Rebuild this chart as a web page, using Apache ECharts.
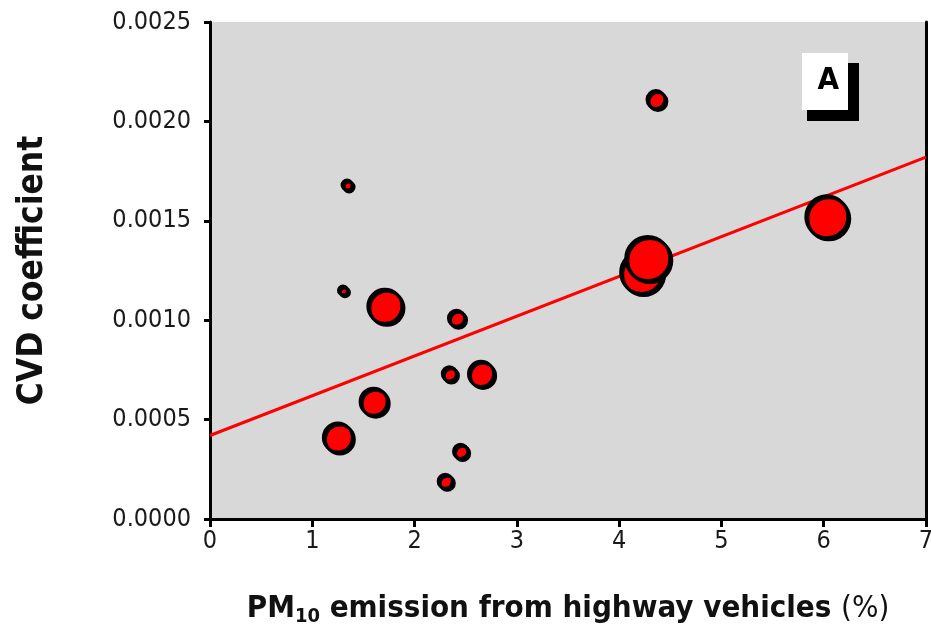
<!DOCTYPE html>
<html>
<head>
<meta charset="utf-8">
<script src="https://cdn.jsdelivr.net/npm/echarts@6/dist/echarts.min.js"></script>
<style>
  html, body { margin: 0; padding: 0; background: #ffffff; }
  #chart { width: 931px; height: 638px; }
</style>
</head>
<body>
<div id="chart"></div>
<script>
// PM10 share from highway vehicles (%) per city
const pmShare = [1.34, 1.30, 1.71, 2.41, 2.34, 2.65, 1.60, 1.25, 2.45, 2.30, 4.36, 4.22, 4.28, 6.03];
// CVD coefficient per city
const cvdCoef = [0.00168, 0.00115, 0.00107, 0.00101, 0.00073, 0.00073, 0.00059, 0.00041, 0.00034, 0.00019, 0.00211, 0.00124, 0.00131, 0.00152];
// Relative weight of each city estimate (bubble area)
const cityWeight = [1.0, 0.8, 11.6, 2.6, 2.0, 6.3, 7.3, 8.4, 2.0, 2.0, 3.2, 17.6, 19.4, 17.6];
// Fitted regression line end points
const fitX = [0, 7];
const fitY = [0.00042, 0.00182];
// Axis ticks
const xTicks = [0, 1, 2, 3, 4, 5, 6, 7];
const yTicks = [0.0000, 0.0005, 0.0010, 0.0015, 0.0020, 0.0025];

const narrow = "'Liberation Sans Narrow', 'DejaVu Sans Condensed', sans-serif";

const bubbles = pmShare.map((x, i) => [x, cvdCoef[i], cityWeight[i]]);
const fitLine = fitX.map((x, i) => [x, fitY[i]]);

const chart = echarts.init(document.getElementById('chart'), null, { renderer: 'canvas' });

const axisLineStyle = { color: '#000', width: 3 };

chart.setOption({
  animation: false,
  backgroundColor: '#ffffff',
  grid: {
    left: 210, right: 5, top: 22, bottom: 119,
    containLabel: false,
    outerBoundsMode: 'none',
    show: true, backgroundColor: '#d8d8d8', borderWidth: 0
  },
  xAxis: {
    type: 'value',
    min: xTicks[0], max: xTicks[xTicks.length - 1], interval: 1,
    splitLine: { show: false },
    axisLine: { show: true, onZero: false, lineStyle: axisLineStyle },
    axisTick: { show: true, inside: false, length: 8, lineStyle: { color: '#000', width: 3 } },
    axisLabel: { color: '#1a1a1a', fontFamily: narrow, fontSize: 25, margin: 10 },
    name: '{b|PM}{s|10}{b| emission from highway vehicles }{r|(%)}',
    nameLocation: 'middle',
    nameGap: 72,
    nameTextStyle: {
      rich: {
        b: { fontFamily: narrow, fontWeight: 'bold', fontSize: 31, color: '#111' },
        s: { fontFamily: narrow, fontWeight: 'bold', fontSize: 20, color: '#111', verticalAlign: 'bottom', padding: [16, 0, 0, 0] },
        r: { fontFamily: narrow, fontWeight: 'normal', fontSize: 31, color: '#111' }
      }
    }
  },
  yAxis: [{
    type: 'value',
    min: yTicks[0], max: yTicks[yTicks.length - 1], interval: 0.0005,
    splitLine: { show: false },
    axisLine: { show: true, onZero: false, lineStyle: axisLineStyle },
    axisTick: { show: true, inside: false, length: 6, lineStyle: { color: '#000', width: 3 } },
    axisLabel: { color: '#1a1a1a', fontFamily: narrow, fontSize: 25, margin: 19, formatter: v => v.toFixed(4) },
    name: 'CVD coefficient',
    nameLocation: 'middle',
    nameGap: 160,
    nameRotate: 90,
    nameTextStyle: { fontFamily: narrow, fontWeight: 'bold', fontSize: 35, color: '#111' }
  }, {
    type: 'value',
    position: 'right',
    min: yTicks[0], max: yTicks[yTicks.length - 1], interval: 0.0005,
    splitLine: { show: false },
    axisLine: { show: true, onZero: false, lineStyle: axisLineStyle },
    axisTick: { show: false },
    axisLabel: { show: false }
  }],
  graphic: [
    { type: 'rect', right: 72, top: 63, shape: { width: 52, height: 58 }, style: { fill: '#000' }, z: 10 },
    { type: 'rect', right: 83, top: 53, shape: { width: 46, height: 57 }, style: { fill: '#fff' }, z: 11 },
    { type: 'text', right: 92, top: 65, style: { text: 'A', fill: '#000', font: "bold 31px " + narrow }, z: 12 }
  ],
  series: [
    {
      type: 'line',
      data: fitLine,
      symbol: 'none',
      lineStyle: { color: '#ff0000', width: 3 },
      z: 2
    },
    {
      type: 'scatter',
      data: bubbles,
      symbol: 'circle',
      symbolSize: d => 10 * Math.sqrt(d[2]),
      itemStyle: {
        color: '#ff0000',
        borderColor: '#000',
        borderWidth: 3,
        shadowColor: '#000',
        shadowBlur: 0,
        shadowOffsetX: 2,
        shadowOffsetY: 2,
        opacity: 1
      },
      z: 3
    }
  ]
});
</script>
</body>
</html>
